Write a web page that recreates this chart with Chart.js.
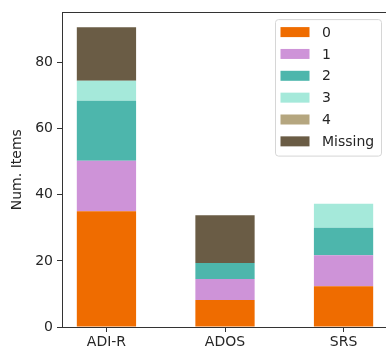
<!DOCTYPE html>
<html>
<head>
<meta charset="utf-8">
<script src="https://cdn.jsdelivr.net/npm/chart.js@4"></script>
<style>
  html, body { margin: 0; padding: 0; background: #fff; overflow: hidden; }
  #myChart { position: absolute; left: 0; top: 0; }
</style>
</head>
<body>
<canvas id="myChart" width="392" height="352"></canvas>
<script>
const categories = ['ADI-R', 'ADOS', 'SRS'];
const scoreLabels = ['0', '1', '2', '3', '4', 'Missing'];
const score0 = [35, 8.2, 12.3];
const score1 = [15.3, 6.3, 9.4];
const score2 = [18.2, 4.9, 8.3];
const score3 = [6, 0, 7.3];
const score4 = [0, 0, 0];
const missing = [16.2, 14.4, 0];
const yTicks = [0, 20, 40, 60, 80];

const series = [score0, score1, score2, score3, score4, missing];
const colors = ['#ef6c00', '#ce93d8', '#4db6ac', '#a5e9da', '#b5a67f', '#6a5c45'];
const font = { family: 'DejaVu Sans', size: 14 };
const ink = '#262626';

// box round the plot plus a matplotlib-style legend in the upper right
const framePlugin = {
  id: 'frame',
  afterDraw(chart) {
    const { ctx, chartArea: a } = chart;
    ctx.save();
    ctx.strokeStyle = '#333';
    ctx.lineWidth = 1;
    ctx.strokeRect(Math.round(a.left) + 0.5, Math.round(a.top) + 0.5,
      Math.round(a.right - a.left), Math.round(a.bottom - a.top));

    const bx = a.right - 113, by = a.top + 6.7, bw = 106, bh = 136.5;
    ctx.beginPath();
    ctx.roundRect(bx + 0.5, by + 0.5, bw, bh, 3);
    ctx.fillStyle = 'rgba(255,255,255,0.8)';
    ctx.fill();
    ctx.strokeStyle = '#d6d6d6';
    ctx.stroke();

    ctx.font = '14px "DejaVu Sans"';
    ctx.textBaseline = 'middle';
    chart.data.datasets.forEach((ds, i) => {
      const cy = by + 13 + i * 21.85;
      ctx.fillStyle = ds.backgroundColor;
      ctx.fillRect(bx + 5.5, cy - 5, 29, 10);
      ctx.fillStyle = ink;
      ctx.fillText(ds.label, bx + 47, cy + 1);
    });
    ctx.restore();
  }
};

new Chart(document.getElementById('myChart'), {
  type: 'bar',
  data: {
    datasets: series.map((vals, i) => ({
      label: scoreLabels[i],
      data: vals.map((v, j) => ({ x: j, y: v })),
      backgroundColor: colors[i],
      borderWidth: 0,
      barPercentage: 0.5,
      categoryPercentage: 1
    }))
  },
  options: {
    responsive: false,
    animation: false,
    devicePixelRatio: 1,
    layout: { padding: { top: 9, right: 4, left: 0, bottom: 0 } },
    plugins: { legend: { display: false }, tooltip: { enabled: false } },
    scales: {
      x: {
        type: 'linear',
        stacked: true,
        offset: false,
        min: -0.375,
        max: 2.375,
        afterBuildTicks: s => { s.ticks = categories.map((c, i) => ({ value: i })); },
        afterFit: s => { s.height = 25; },
        ticks: {
          callback: v => categories[v],
          font: font,
          color: ink,
          padding: 2,
          maxRotation: 0,
          autoSkip: false
        },
        grid: { offset: false, drawOnChartArea: false, tickLength: 5, color: '#333' },
        border: { color: '#333' }
      },
      y: {
        stacked: true,
        min: 0,
        max: 95.2,
        afterBuildTicks: s => { s.ticks = yTicks.map(v => ({ value: v })); },
        afterFit: s => { s.width = 62; },
        ticks: { font: font, color: ink, padding: 4 },
        grid: { drawOnChartArea: false, tickLength: 5, color: '#333' },
        border: { color: '#333' },
        title: {
          display: true,
          text: 'Num. Items',
          font: font,
          color: ink,
          padding: { top: 9, bottom: 0 }
        }
      }
    }
  },
  plugins: [framePlugin]
});
</script>
</body>
</html>
